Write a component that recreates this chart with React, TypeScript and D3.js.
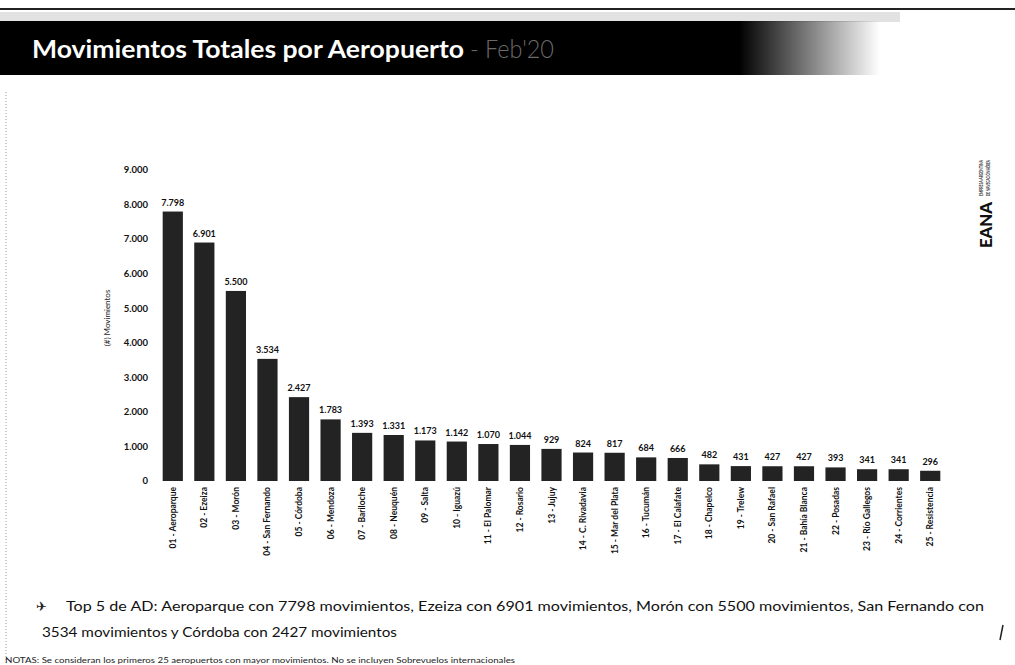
import React, { useEffect, useRef } from 'react';
import * as d3 from 'd3';

const airports = [
  '01 - Aeroparque', '02 - Ezeiza', '03 - Morón', '04 - San Fernando', '05 - Córdoba',
  '06 - Mendoza', '07 - Bariloche', '08 - Neuquén', '09 - Salta', '10 - Iguazú',
  '11 - El Palomar', '12 - Rosario', '13 - Jujuy', '14 - C. Rivadavia', '15 - Mar del Plata',
  '16 - Tucumán', '17 - El Calafate', '18 - Chapelco', '19 - Trelew', '20 - San Rafael',
  '21 - Bahía Blanca', '22 - Posadas', '23 - Río Gallegos', '24 - Corrientes', '25 - Resistencia',
];
const movements = [
  7798, 6901, 5500, 3534, 2427, 1783, 1393, 1331, 1173, 1142, 1070, 1044, 929,
  824, 817, 684, 666, 482, 431, 427, 427, 393, 341, 341, 296,
];
const yTicks = [0, 1000, 2000, 3000, 4000, 5000, 6000, 7000, 8000, 9000];

const fmt = (v: number) => (v >= 1000 ? d3.format(',')(v).replace(',', '.') : String(v));

const App = () => {
  const svgRef = useRef<SVGSVGElement>(null);

  useEffect(() => {
    const svg = d3.select(svgRef.current);
    svg.selectAll('*').remove();

    const W = 1015;
    const font = 'Lato, "Open Sans", sans-serif';

    const defs = svg.append('defs');
    const grad = defs.append('linearGradient').attr('id', 'banner-fade').attr('x1', '0%').attr('x2', '100%');
    grad.append('stop').attr('offset', '0%').attr('stop-color', '#000');
    grad.append('stop').attr('offset', '84%').attr('stop-color', '#000');
    grad.append('stop').attr('offset', '100%').attr('stop-color', '#000').attr('stop-opacity', 0);

    // header
    svg.append('line').attr('x1', 0).attr('x2', W).attr('y1', 9).attr('y2', 9)
      .attr('stroke', '#222').attr('stroke-width', 2);
    svg.append('rect').attr('x', 0).attr('y', 12).attr('width', 900).attr('height', 10).attr('fill', '#e2e2e2');
    svg.append('rect').attr('x', 0).attr('y', 21).attr('width', 880).attr('height', 54).attr('fill', 'url(#banner-fade)');
    svg.append('text').attr('x', 32).attr('y', 58).attr('textLength', 432).attr('lengthAdjust', 'spacingAndGlyphs')
      .style('font-family', font).style('font-size', '25px').style('font-weight', 700)
      .attr('fill', '#fff').text('Movimientos Totales por Aeropuerto');
    svg.append('text').attr('x', 470).attr('y', 58).attr('textLength', 84).attr('lengthAdjust', 'spacingAndGlyphs')
      .style('font-family', font).style('font-size', '25px').style('font-weight', 300)
      .attr('fill', '#6a6a6a').text("- Feb'20");

    // side logo
    svg.append('text').attr('transform', 'translate(992,248) rotate(-90)').attr('textLength', 46)
      .attr('lengthAdjust', 'spacingAndGlyphs')
      .style('font-family', font).style('font-size', '16px').style('font-weight', 900)
      .attr('fill', '#111').text('EANA');
    svg.append('text').attr('transform', 'translate(983,196) rotate(-90)').attr('textLength', 36)
      .attr('lengthAdjust', 'spacingAndGlyphs')
      .style('font-family', font).style('font-size', '5px').style('font-weight', 700)
      .attr('fill', '#333').text('EMPRESA ARGENTINA');
    svg.append('text').attr('transform', 'translate(990,196) rotate(-90)').attr('textLength', 36)
      .attr('lengthAdjust', 'spacingAndGlyphs')
      .style('font-family', font).style('font-size', '5px').style('font-weight', 700)
      .attr('fill', '#333').text('DE NAVEGACIÓN AÉREA');

    // left dotted edge
    svg.append('line').attr('x1', 6).attr('x2', 6).attr('y1', 92).attr('y2', 665)
      .attr('stroke', '#999').attr('stroke-dasharray', '1,2');

    // chart
    const x = d3.scaleBand<string>().domain(airports).range([157, 946]).paddingInner(0.36).paddingOuter(0.18);
    const y = d3.scaleLinear().domain([0, 9000]).range([481, 170]);

    const g = svg.append('g');
    yTicks.forEach((t) => {
      g.append('text').attr('x', 148).attr('y', y(t)).attr('dy', '0.35em')
        .attr('text-anchor', 'end').style('font-family', font).style('font-size', '9.5px')
        .style('font-weight', 700).attr('fill', '#111').text(fmt(t));
    });

    g.append('text').attr('transform', `translate(110,318) rotate(-90)`)
      .attr('text-anchor', 'middle').style('font-family', font).style('font-size', '8px')
      .attr('fill', '#222').text('(#) Movimientos');

    g.selectAll('.bar').data(movements).enter().append('rect')
      .attr('class', 'bar')
      .attr('x', (_, i) => x(airports[i]) as number)
      .attr('y', (d) => y(d))
      .attr('width', x.bandwidth())
      .attr('height', (d) => y(0) - y(d))
      .attr('fill', '#232323');

    g.selectAll('.val').data(movements).enter().append('text')
      .attr('x', (_, i) => (x(airports[i]) as number) + x.bandwidth() / 2)
      .attr('y', (d) => y(d) - 6)
      .attr('text-anchor', 'middle').style('font-family', font).style('font-size', '9px')
      .style('font-weight', 700).attr('fill', '#111')
      .text((d) => fmt(d));

    g.selectAll('.lbl').data(airports).enter().append('text')
      .attr('transform', (d) => `translate(${(x(d) as number) + x.bandwidth() / 2 + 3},487) rotate(-90)`)
      .attr('text-anchor', 'end').style('font-family', font).style('font-size', '8.5px')
      .style('font-weight', 700).attr('fill', '#111').text((d) => d);

    // notes
    svg.append('text').attr('x', 36).attr('y', 611).style('font-family', 'DejaVu Sans, sans-serif')
      .style('font-size', '13px').attr('fill', '#222').text('✈');
    svg.append('text').attr('x', 66).attr('y', 611).attr('textLength', 918).attr('lengthAdjust', 'spacingAndGlyphs')
      .style('font-family', font).style('font-size', '12.5px').attr('fill', '#111')
      .text('Top 5 de AD: Aeroparque con 7798 movimientos, Ezeiza con 6901 movimientos, Morón con 5500 movimientos, San Fernando con');
    svg.append('text').attr('x', 42).attr('y', 637).attr('textLength', 355).attr('lengthAdjust', 'spacingAndGlyphs')
      .style('font-family', font).style('font-size', '12.5px').attr('fill', '#111')
      .text('3534 movimientos y Córdoba con 2427 movimientos');
    svg.append('text').attr('x', 5).attr('y', 663).attr('textLength', 510).attr('lengthAdjust', 'spacingAndGlyphs')
      .style('font-family', font).style('font-size', '7px').attr('fill', '#222')
      .text('NOTAS: Se consideran los primeros 25 aeropuertos con mayor movimientos. No se incluyen Sobrevuelos internacionales');
    svg.append('line').attr('x1', 1003).attr('x2', 1000).attr('y1', 625).attr('y2', 640)
      .attr('stroke', '#222').attr('stroke-width', 1.5);
  }, []);

  return (
    <div style={{ position: 'absolute', left: 0, top: 0, background: '#fff' }}>
      <svg ref={svgRef} width={1015} height={665} />
    </div>
  );
};

export default App;
